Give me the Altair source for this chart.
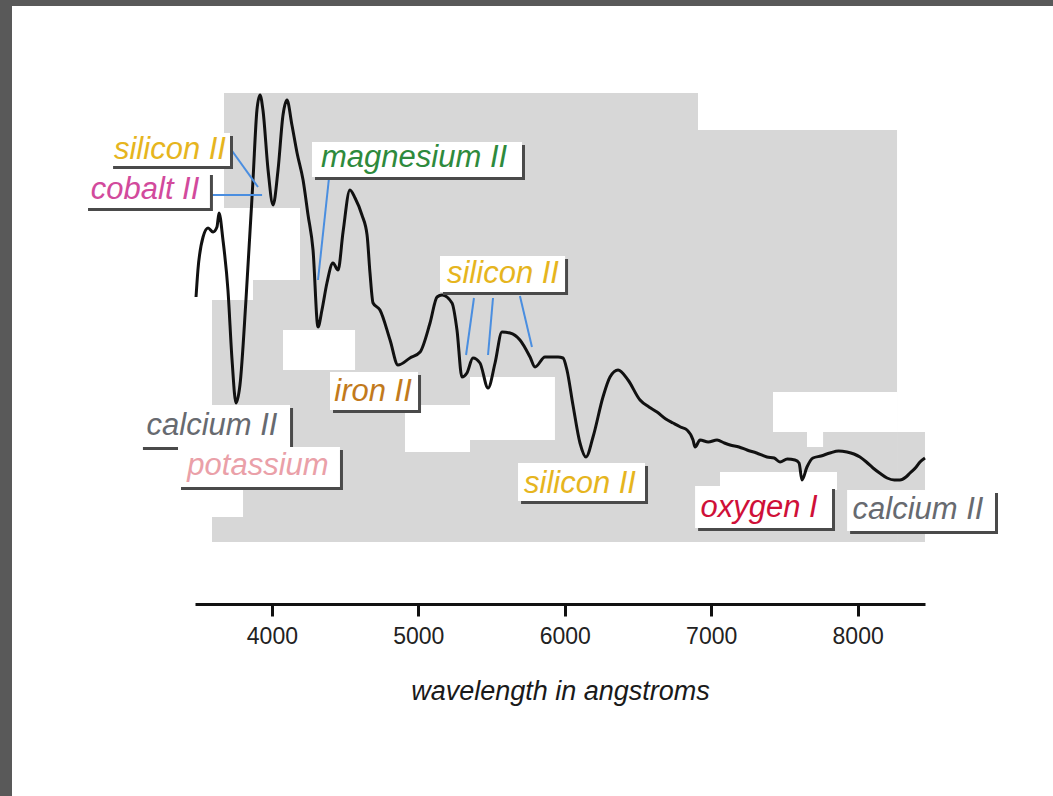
import altair as alt
import pandas as pd

# ---------------- spectrum (wavelength in Å, relative flux) ----------------
wavelength = [3482, 3495, 3530, 3564, 3598, 3625, 3639, 3666, 3700, 3728, 3755, 3782,
              3823, 3871, 3898, 3919, 3939, 3974, 4008, 4042, 4076, 4103, 4137, 4172,
              4213, 4247, 4281, 4315, 4342, 4376, 4417, 4452, 4486, 4533, 4568, 4615,
              4650, 4670, 4691, 4738, 4807, 4861, 4943, 5012, 5080, 5128, 5162, 5230,
              5264, 5298, 5332, 5373, 5421, 5476, 5524, 5571, 5626, 5694, 5763, 5797,
              5865, 5954, 5988, 6015, 6056, 6104, 6145, 6193, 6261, 6309, 6364, 6432,
              6514, 6575, 6630, 6690, 6739, 6790, 6835, 6876, 6890, 6924, 6980, 7040,
              7090, 7129, 7190, 7245, 7310, 7381, 7430, 7470, 7520, 7572, 7600, 7620,
              7654, 7695, 7750, 7811, 7870, 7927, 7975, 8016, 8060, 8105, 8150, 8201,
              8250, 8289, 8330, 8358, 8400, 8426, 8460]
flux = [3.07, 3.34, 3.67, 3.76, 3.72, 3.77, 3.91, 3.64, 3.14, 2.44, 2.01, 2.19,
        3.04, 4.24, 4.94, 5.09, 4.94, 4.34, 3.99, 4.34, 4.89, 5.04, 4.79, 4.51,
        4.24, 3.89, 3.54, 2.77, 2.94, 3.21, 3.41, 3.34, 3.72, 4.14, 4.06, 3.89,
        3.69, 3.31, 3.01, 2.94, 2.64, 2.39, 2.46, 2.52, 2.81, 3.07, 3.09, 3.01,
        2.74, 2.27, 2.31, 2.46, 2.41, 2.16, 2.41, 2.72, 2.71, 2.64, 2.47, 2.37,
        2.47, 2.47, 2.46, 2.34, 1.99, 1.61, 1.47, 1.67, 2.07, 2.27, 2.34, 2.24,
        2.04, 1.97, 1.92, 1.85, 1.81, 1.77, 1.74, 1.64, 1.57, 1.64, 1.62, 1.64,
        1.61, 1.59, 1.57, 1.54, 1.51, 1.47, 1.46, 1.42, 1.45, 1.44, 1.41, 1.24,
        1.37, 1.46, 1.48, 1.51, 1.53, 1.52, 1.50, 1.47, 1.42, 1.36, 1.31, 1.26,
        1.24, 1.24, 1.27, 1.31, 1.37, 1.42, 1.46]

# ---------------- line identifications ----------------
label_text = ["silicon II", "cobalt II", "magnesium II", "silicon II", "iron II",
              "calcium II", "potassium", "silicon II", "oxygen I", "calcium II"]
label_color = ["#e6b51e", "#d24a9c", "#2e8a3c", "#e6b51e", "#c27a1c",
               "#676a70", "#eaa0a8", "#e6b51e", "#cf1038", "#676a70"]
label_wl = [3304, 3134, 4971, 5578, 4691, 3591, 3905, 6104, 7327, 8412]
label_flux = [4.54, 4.14, 4.46, 3.30, 2.12, 1.78, 1.38, 1.20, 0.96, 0.94]
box_wl1 = [2895, 2724, 4274, 5148, 4397, 3099, 3359, 5681, 6890, 7928]
box_wl2 = [3714, 3577, 5708, 6002, 4998, 4124, 4465, 6548, 7825, 8938]
box_top = [4.71, 4.32, 4.62, 3.48, 2.32, 1.99, 1.57, 1.41, 1.18, 1.14]
box_bot = [4.38, 3.96, 4.27, 3.12, 1.94, 1.57, 1.17, 1.03, 0.76, 0.73]

# connector lines (from label to feature)
conn_wl1 = [3714, 3591, 4390, 5380, 5510, 5694]
conn_f1 = [4.56, 4.09, 4.26, 3.06, 3.06, 3.08]
conn_wl2 = [3905, 3933, 4315, 5326, 5476, 5776]
conn_f2 = [4.17, 4.09, 3.24, 2.49, 2.49, 2.57]

# ---------------- grey backdrop panels ----------------
gray_wl1 = [3591, 8269]
gray_wl2 = [8269, 8460]
gray_top = [5.11, 1.72]
gray_bot = [0.62, 0.62]

white_wl1 = [6910, 3591, 3591, 3591, 4076, 4909, 5353, 7422, 7654, 3591, 7060]
white_wl2 = [8289, 3673, 4192, 3871, 4568, 5353, 5933, 8269, 7764, 3803, 7859]
white_top = [5.11, 5.11, 3.96, 3.24, 2.74, 1.99, 2.27, 2.12, 1.72, 1.57, 1.32]
white_bot = [4.74, 3.94, 3.24, 3.04, 2.34, 1.52, 1.64, 1.72, 1.57, 0.87, 1.14]

tick_values = [4000, 5000, 6000, 7000, 8000]
x_title = "wavelength in angstroms"

xs = alt.Scale(domain=[3475, 8460], nice=False, zero=False)
ys = alt.Scale(domain=[0, 5.11], nice=False, zero=False)
xaxis = alt.Axis(values=tick_values, format="d", grid=False, zindex=1)


def X(field):
    return alt.X(field, type="quantitative", scale=xs, axis=xaxis, title=x_title)


def Y(field):
    return alt.Y(field, type="quantitative", scale=ys, axis=None)


spec = pd.DataFrame({"wl": wavelength, "flux": flux})
labels = pd.DataFrame({"text": label_text, "color": label_color, "wl": label_wl,
                       "f": label_flux, "b1": box_wl1, "b2": box_wl2,
                       "bt": box_top, "bb": box_bot})
conns = pd.DataFrame({"w1": conn_wl1, "f1": conn_f1, "w2": conn_wl2, "f2": conn_f2})
grays = pd.DataFrame({"w1": gray_wl1, "w2": gray_wl2, "t": gray_top, "b": gray_bot})
whites = pd.DataFrame({"w1": white_wl1, "w2": white_wl2, "t": white_top, "b": white_bot})

frame = alt.Chart(pd.DataFrame({"a": [0]})).mark_rect(color="white").encode(
    x=alt.value(-183), x2=alt.value(858), y=alt.value(-87), y2=alt.value(703))

gray_layer = alt.Chart(grays).mark_rect(color="#d7d7d7").encode(
    x=X("w1"), x2="w2:Q", y=Y("t"), y2="b:Q")

white_layer = alt.Chart(whites).mark_rect(color="white").encode(
    x=X("w1"), x2="w2:Q", y=Y("t"), y2="b:Q")

line = alt.Chart(spec).mark_line(color="#111111", strokeWidth=3, strokeJoin="round",
                                 interpolate="monotone").encode(
    x=X("wl"), y=Y("flux"))

conn_layer = alt.Chart(conns).mark_rule(color="#4a8ee0", strokeWidth=2).encode(
    x=X("w1"), x2="w2:Q", y=Y("f1"), y2="f2:Q")

shadow = alt.Chart(labels).mark_rect(color="#4a4a4a", xOffset=3, x2Offset=3,
                                     yOffset=3, y2Offset=3).encode(
    x=X("b1"), x2="b2:Q", y=Y("bt"), y2="bb:Q")

box = alt.Chart(labels).mark_rect(color="white").encode(
    x=X("b1"), x2="b2:Q", y=Y("bt"), y2="bb:Q")

text = alt.Chart(labels).mark_text(font="Liberation Sans", fontStyle="italic", fontSize=31,
                                   align="center", baseline="middle").encode(
    x=X("wl"), y=Y("f"),
    text="text:N",
    color=alt.Color("color:N", scale=None))

chart = alt.layer(frame, gray_layer, white_layer, line, conn_layer, shadow, box, text).properties(
    width=730, height=511,
    autosize=alt.AutoSizeParams(type="none"),
    padding={"left": 195, "top": 93, "right": 128, "bottom": 192},
    background="#595959",
).configure_view(strokeWidth=0).configure_axisX(
    domainColor="#111111", domainWidth=3, tickColor="#111111", tickWidth=3, tickSize=12,
    labelFont="Liberation Sans", labelFontSize=23, labelColor="#222222", labelPadding=9,
    titleFont="Liberation Sans", titleFontSize=27, titleFontStyle="italic",
    titleFontWeight="normal", titleColor="#1a1a1a", titlePadding=30,
)

chart.save("out.html", embed_options={"renderer": "svg", "actions": False})
